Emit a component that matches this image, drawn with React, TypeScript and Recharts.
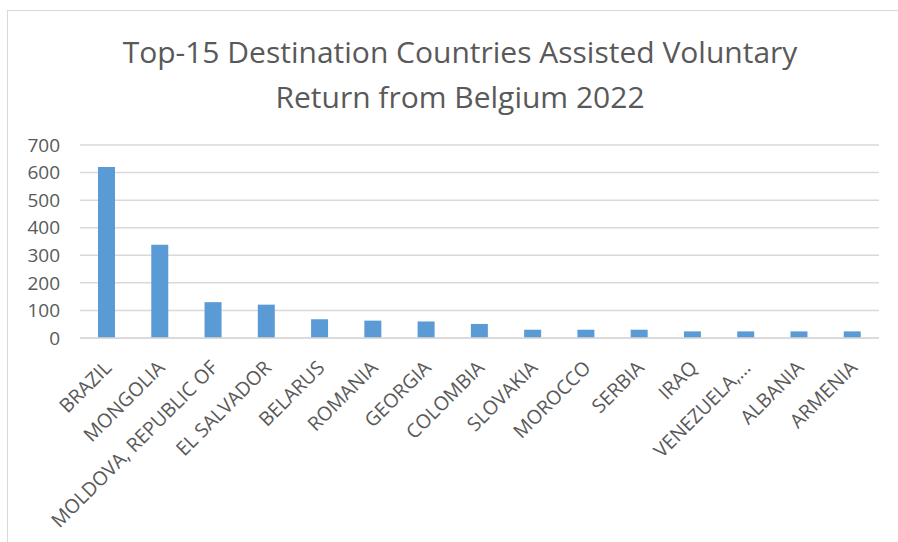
import { Bar, BarChart, CartesianGrid, XAxis, YAxis } from "recharts";

const countries = [
  "BRAZIL",
  "MONGOLIA",
  "MOLDOVA, REPUBLIC OF",
  "EL SALVADOR",
  "BELARUS",
  "ROMANIA",
  "GEORGIA",
  "COLOMBIA",
  "SLOVAKIA",
  "MOROCCO",
  "SERBIA",
  "IRAQ",
  "VENEZUELA,…",
  "ALBANIA",
  "ARMENIA",
];

const returns = [620, 338, 130, 121, 68, 63, 60, 51, 30, 30, 30, 24, 24, 24, 24];

const yTicks = [0, 100, 200, 300, 400, 500, 600, 700];

const titleLines = [
  "Top-15 Destination Countries Assisted Voluntary",
  "Return from Belgium 2022",
];

const data = countries.map((name, i) => ({ name, value: returns[i] }));

const FONT = "'Open Sans', sans-serif";
const GREY = "#595959";

function CountryTick(props: any) {
  const { x, y, payload } = props;
  const tx = x + 6;
  const ty = y + 23;
  return (
    <text
      x={tx}
      y={ty}
      transform={`rotate(-45, ${tx}, ${ty})`}
      textAnchor="end"
      fill={GREY}
      fontSize={19.5}
      fontFamily={FONT}
    >
      {payload.value}
    </text>
  );
}

export default function App() {
  return (
    <div
      style={{
        position: "absolute",
        left: 0,
        top: 0,
        width: 898,
        height: 542,
        background: "#fff",
        overflow: "hidden",
      }}
    >
      <div
        style={{
          position: "absolute",
          left: 7,
          top: 10,
          width: 1000,
          height: 1000,
          border: "1px solid #d9d9d9",
        }}
      />
      {titleLines.map((line, i) => (
        <div
          key={line}
          style={{
            position: "absolute",
            left: 0,
            width: 920,
            top: 31 + i * 45,
            textAlign: "center",
            fontFamily: FONT,
            fontSize: 30,
            color: GREY,
            whiteSpace: "nowrap",
          }}
        >
          {line}
        </div>
      ))}
      <div style={{ position: "absolute", left: 0, top: 0 }}>
        <BarChart
          width={898}
          height={542}
          data={data}
          margin={{ top: 145, right: 19, bottom: 4, left: 10 }}
        >
          <CartesianGrid vertical={false} stroke="#d9d9d9" strokeWidth={1.5} />
          <XAxis
            dataKey="name"
            interval={0}
            height={200}
            axisLine={{ stroke: "#d9d9d9", strokeWidth: 1.5 }}
            tickLine={false}
            tick={<CountryTick />}
          />
          <YAxis
            width={70}
            domain={[0, 700]}
            ticks={yTicks}
            axisLine={false}
            tickLine={false}
            tickMargin={14}
            tick={{ fill: GREY, fontSize: 19, fontFamily: FONT }}
          />
          <Bar
            dataKey="value"
            fill="#5b9bd5"
            barSize={17}
            isAnimationActive={false}
          />
        </BarChart>
      </div>
    </div>
  );
}
